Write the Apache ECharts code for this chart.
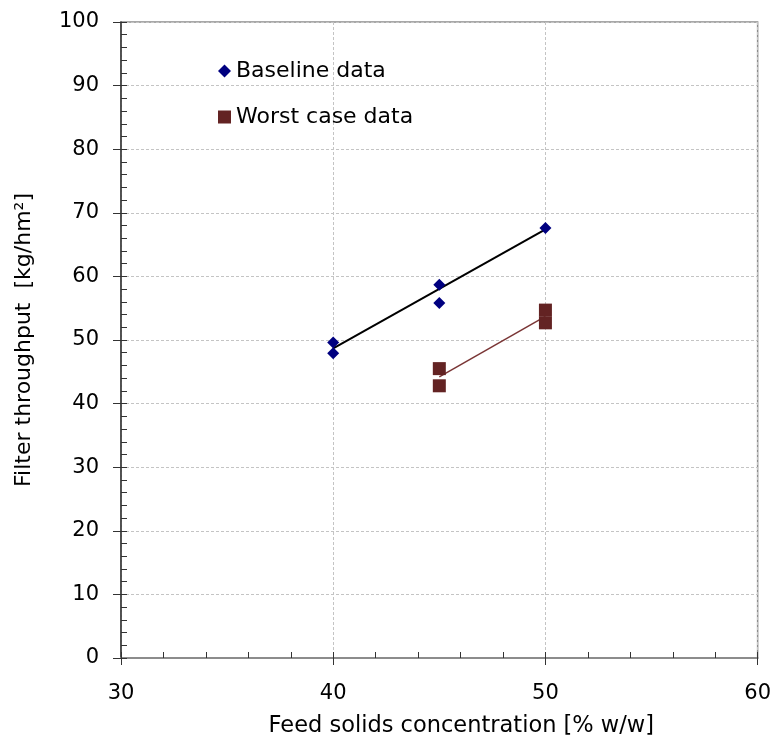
<!DOCTYPE html>
<html>
<head>
    <meta charset="utf-8">
    <title>Filter throughput</title>
    <script src="https://cdn.jsdelivr.net/npm/echarts@6/dist/echarts.min.js"></script>
</head>
<body style="margin:0">
    <div id="main" style="width:774px;height:743px;"></div>
    <script type="text/javascript">
// values
var baseline = [[40, 49.6], [40, 47.9], [45, 58.7], [45, 55.8], [50, 67.6]];
var worstCase = [[45, 45.5], [45, 42.8], [50, 54.7], [50, 52.7]];
// trend lines (end points)
var baselineFit = [[40, 48.7], [50, 67.4]];
var worstFit = [[45, 44.2], [50, 53.7]];

var font = 'DejaVu Sans';
var myChart = echarts.init(document.getElementById('main'));

option = {
    animation: false,
    grid: {
        left: 121, right: 16, top: 22, bottom: 82,
        show: true, borderColor: '#8c8c8c', borderWidth: 1.5
    },
    legend: {
        data: ['Baseline data', 'Worst case data'],
        orient: 'vertical',
        left: 213, top: 55,
        itemWidth: 13, itemHeight: 13,
        itemGap: 24,
        textStyle: {fontFamily: font, fontSize: 22, color: '#000'}
    },
    xAxis: [{
        type: 'value', min: 30, max: 60, interval: 10,
        name: 'Feed solids concentration [% w/w]',
        nameLocation: 'middle', nameGap: 57,
        nameTextStyle: {fontFamily: font, fontSize: 22.5, color: '#000', padding: [0, 0, 0, 44]},
        axisLine: {onZero: false, lineStyle: {color: '#8c8c8c', width: 2}},
        axisTick: {length: 7, lineStyle: {color: '#333'}},
        axisLabel: {margin: 25, fontFamily: font, fontSize: 21, color: '#000'},
        splitLine: {lineStyle: {color: '#c4c4c4', type: [3, 2]}}
    }, {
        // minor ticks, inside
        type: 'value', min: 30, max: 60, interval: 2, position: 'bottom',
        axisLine: {show: false},
        axisTick: {inside: true, length: 6, lineStyle: {color: '#333'}},
        axisLabel: {show: false},
        splitLine: {show: false}
    }],
    yAxis: [{
        type: 'value', min: 0, max: 100, interval: 10,
        name: 'Filter throughput  [kg/hm²]',
        nameLocation: 'middle', nameGap: 86,
        nameTextStyle: {fontFamily: font, fontSize: 22, color: '#000'},
        axisLine: {onZero: false, lineStyle: {color: '#333', width: 1.5}},
        axisTick: {length: 8, lineStyle: {color: '#333'}},
        axisLabel: {margin: 22, fontFamily: font, fontSize: 21, color: '#000'},
        splitLine: {lineStyle: {color: '#c4c4c4', type: [3, 2]}}
    }, {
        type: 'value', min: 0, max: 100, interval: 2, position: 'left',
        axisLine: {show: false},
        axisTick: {inside: true, length: 6, lineStyle: {color: '#333'}},
        axisLabel: {show: false},
        splitLine: {show: false}
    }],
    series: [{
        name: 'Baseline fit', type: 'line', data: baselineFit,
        symbol: 'none', lineStyle: {color: '#000', width: 2}, z: 2
    }, {
        name: 'Worst fit', type: 'line', data: worstFit,
        symbol: 'none', lineStyle: {color: '#7a3535', width: 1.5}, z: 2
    }, {
        name: 'Baseline data', type: 'scatter', data: baseline,
        symbol: 'diamond', symbolSize: 12,
        itemStyle: {color: '#000080', opacity: 1}, z: 3
    }, {
        name: 'Worst case data', type: 'scatter', data: worstCase,
        symbol: 'rect', symbolSize: 13,
        itemStyle: {color: '#632323', opacity: 1}, z: 3
    }]
};

myChart.setOption(option);
    </script>
</body>
</html>
